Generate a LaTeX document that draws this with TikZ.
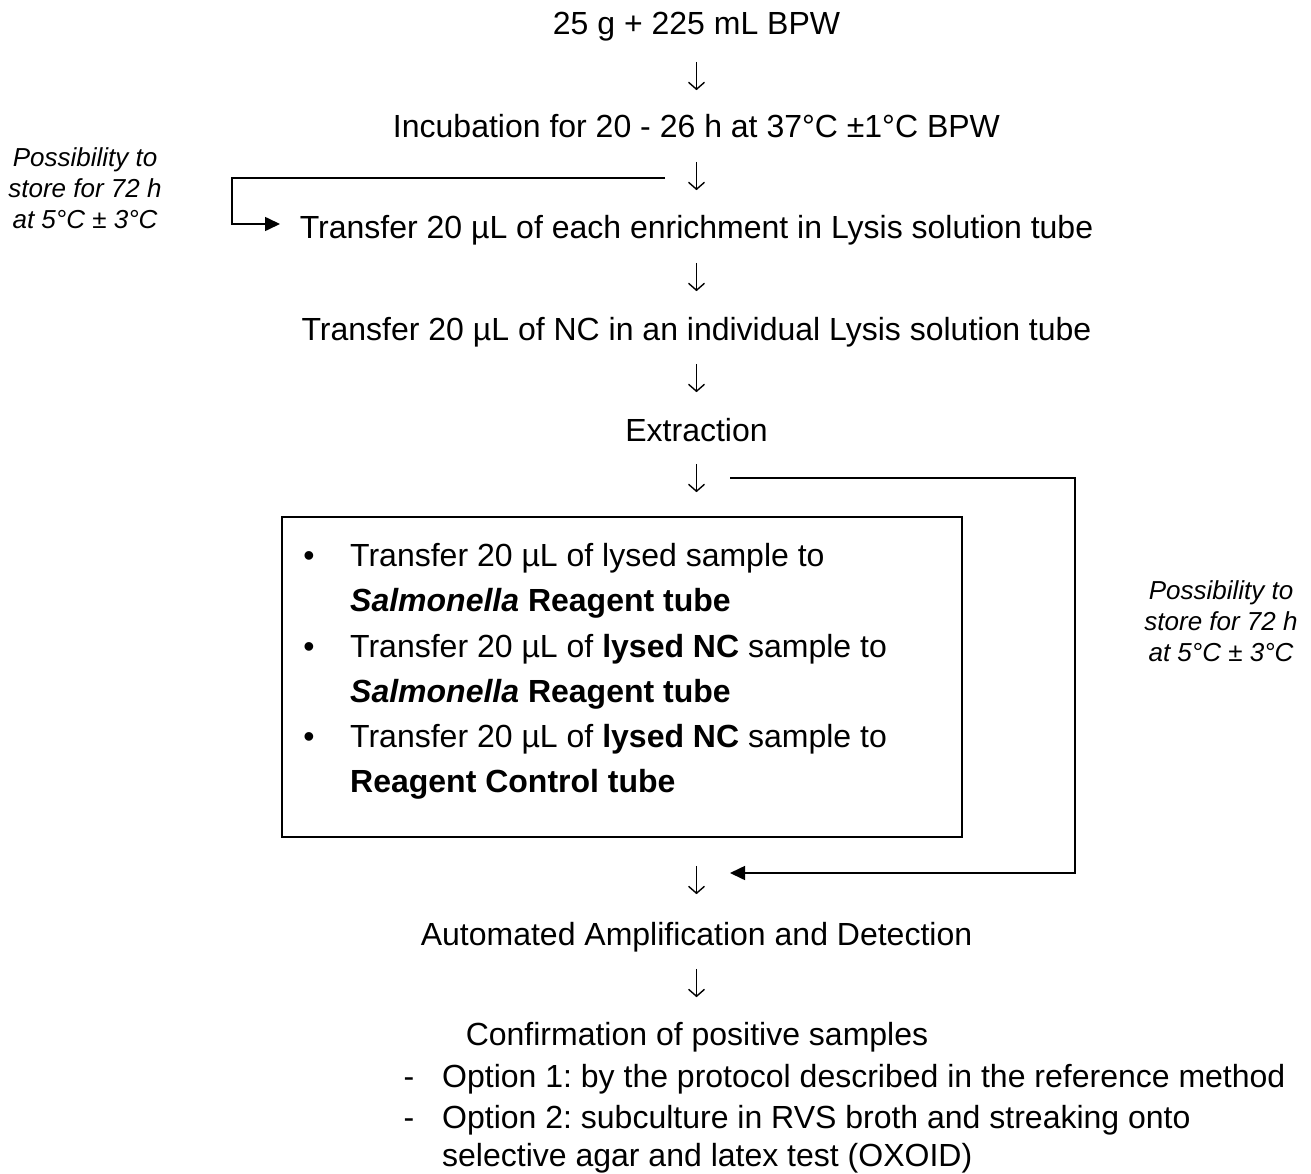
\documentclass[tikz,border=0pt]{standalone}
\usepackage{fontspec}
\setmainfont{Liberation Sans}
\usetikzlibrary{arrows.meta}
\frenchspacing
\begin{document}
\begin{tikzpicture}[x=1pt,y=-1pt,
  txt/.style={font=\fontsize{32}{38}\selectfont, inner sep=0pt},
  arrnode/.style={inner sep=0pt, minimum width=16pt, minimum height=28pt},
  downarr/.style={line width=1.4pt, -{Straight Barb[length=7pt,width=16pt,line width=1.4pt]}},
  note/.style={font=\fontsize{26}{31}\selectfont\itshape, inner sep=0pt, align=center},
  conn/.style={line width=1.6pt, -{Triangle[length=15pt,width=14pt]}},
  boxstyle/.style={draw, line width=1.6pt, minimum width=680pt, minimum height=320pt, inner sep=0pt}]
\useasboundingbox (0,0) rectangle (1311,1174);

% main column
\node[txt, anchor=base] (n1) at (696.5,35) {25 g + 225 mL BPW};
\node[arrnode] (a1) at (696.5,76) {};
\node[txt, anchor=base] (n2) at (696.5,138) {Incubation for 20 - 26 h at 37°C ±1°C BPW};
\node[arrnode] (a2) at (696.5,176) {};
\node[txt, anchor=base] (n3) at (696.5,239) {Transfer 20 µL of each enrichment in Lysis solution tube};
\node[arrnode] (a3) at (696.5,277) {};
\node[txt, anchor=base] (n4) at (696.5,340) {Transfer 20 µL of NC in an individual Lysis solution tube};
\node[arrnode] (a4) at (696.5,378) {};
\node[txt, anchor=base] (n5) at (696.5,441) {Extraction};
\node[arrnode] (a5) at (696.5,478) {};

% box
\node[boxstyle] (box) at (622,677) {};
\node[txt, anchor=base] (b1) at (309,566) {•};
\node[txt, anchor=base west] (l1) at (350,566) {Transfer 20 µL of lysed sample to};
\node[txt, anchor=base west] (l2) at (350,611) {\textbf{\textit{Salmonella}} \textbf{Reagent tube}};
\node[txt, anchor=base] (b2) at (309,657) {•};
\node[txt, anchor=base west] (l3) at (350,657) {Transfer 20 µL of \textbf{lysed NC} sample to};
\node[txt, anchor=base west] (l4) at (350,702) {\textbf{\textit{Salmonella}} \textbf{Reagent tube}};
\node[txt, anchor=base] (b3) at (309,747) {•};
\node[txt, anchor=base west] (l5) at (350,747) {Transfer 20 µL of \textbf{lysed NC} sample to};
\node[txt, anchor=base west] (l6) at (350,792) {\textbf{Reagent Control tube}};

\node[arrnode] (a6) at (696.5,880) {};
\node[txt, anchor=base] (n6) at (696.5,945) {Automated Amplification and Detection};
\node[arrnode] (a7) at (696.5,983) {};
\node[txt, anchor=base] (n7) at (697,1045) {Confirmation of positive samples};
\node[txt, anchor=base] (d1) at (409,1087) {-};
\node[txt, anchor=base west] (o1) at (442,1087) {Option 1: by the protocol described in the reference method};
\node[txt, anchor=base] (d2) at (409,1128) {-};
\node[txt, anchor=base west] (o2) at (442,1128) {Option 2: subculture in RVS broth and streaking onto};
\node[txt, anchor=base west] (o3) at (442,1166) {selective agar and latex test (OXOID)};

% down arrows
\foreach \a in {a1,a2,a3,a4,a5,a6,a7}
  \draw[downarr] (\a.north) -- (\a.south);

% notes
\node[note] (noteL) at (85,188) {Possibility to\\store for 72 h\\at 5°C ± 3°C};
\node[note] (noteR) at (1221,621) {Possibility to\\store for 72 h\\at 5°C ± 3°C};

% connectors
\coordinate (c1) at (665,178);
\coordinate (e1) at (280,224);
\draw[conn] (c1) -- (232,178) |- (e1);
\coordinate (c2) at (730,478);
\coordinate (e2) at (730,873);
\draw[conn] (c2) -- (1075,478) |- (e2);
\end{tikzpicture}
\end{document}
